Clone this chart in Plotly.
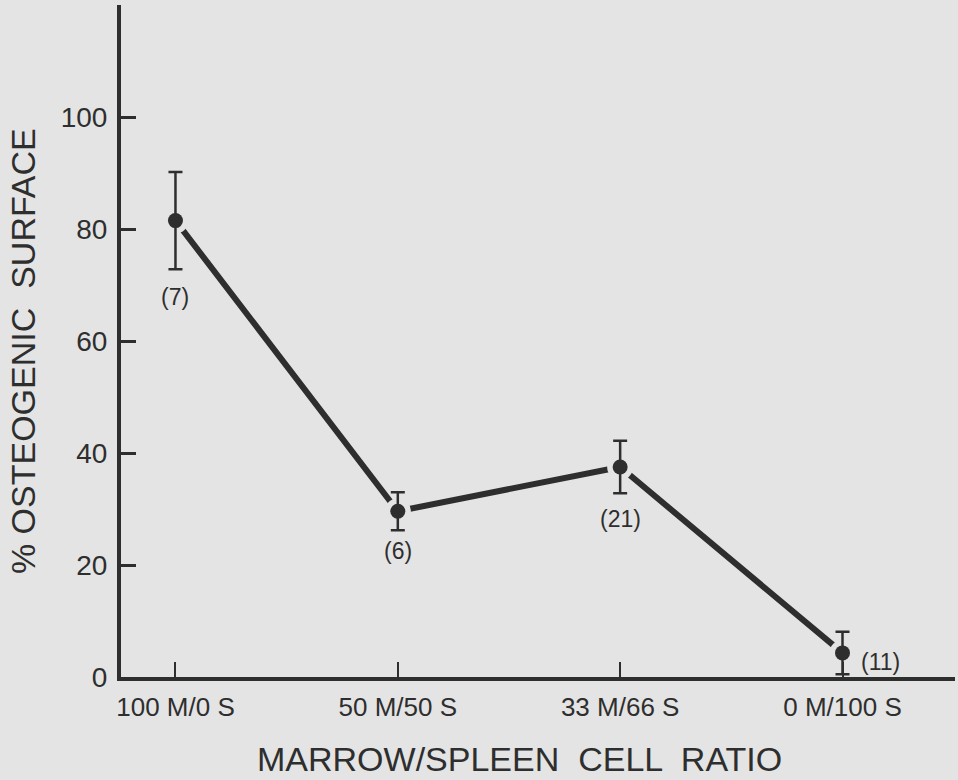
import plotly.graph_objects as go

categories = ["100 M/0 S", "50 M/50 S", "33 M/66 S", "0 M/100 S"]
osteogenic = [81.5, 29.6, 37.5, 4.3]
errors = [8.7, 3.4, 4.7, 3.8]
counts = ["(7)", "(6)", "(21)", "(11)"]
y_ticks = [0, 20, 40, 60, 80, 100]

BG = "#e4e4e4"
INK = "#2e2e2e"
FONT = "Liberation Sans"

xi = list(range(len(categories)))

fig = go.Figure()
# connecting line with background-coloured markers to create gaps
fig.add_trace(go.Scatter(
    x=xi, y=osteogenic, mode="lines+markers",
    line=dict(color=INK, width=6),
    marker=dict(size=26, color=BG),
    hoverinfo="skip", showlegend=False,
))
# points with error bars
fig.add_trace(go.Scatter(
    x=xi, y=osteogenic, mode="markers",
    marker=dict(size=15, color=INK),
    error_y=dict(type="data", array=errors, visible=True,
                 color=INK, thickness=2.5, width=7),
    showlegend=False,
))

label_offsets = [(0, -76), (0, -40), (0, -52), (38, -9)]
for i, (txt, (dx, dy)) in enumerate(zip(counts, label_offsets)):
    fig.add_annotation(x=xi[i], y=osteogenic[i], text=txt, showarrow=False,
                       xshift=dx, yshift=dy,
                       font=dict(family=FONT, size=23, color=INK))

# axis titles
fig.add_annotation(xref="paper", yref="paper", x=0.478, y=0, yshift=-82,
                   text="MARROW/SPLEEN  CELL  RATIO", showarrow=False,
                   xanchor="center", yanchor="middle",
                   font=dict(family=FONT, size=34, color=INK))
fig.add_annotation(xref="paper", yref="paper", x=0, xshift=-98, y=0.485,
                   text="% OSTEOGENIC  SURFACE", showarrow=False, textangle=-90,
                   xanchor="center", yanchor="middle",
                   font=dict(family=FONT, size=34, color=INK))

fig.update_layout(
    width=958, height=780,
    paper_bgcolor=BG, plot_bgcolor=BG,
    margin=dict(l=121, r=3, t=5, b=103),
    font=dict(family=FONT, color=INK),
    xaxis=dict(
        tickmode="array", tickvals=xi, ticktext=categories,
        range=[-0.245, 3.506],
        showline=True, linecolor=INK, linewidth=4,
        ticks="inside", ticklen=15, tickwidth=2, tickcolor=INK,
        showgrid=False, zeroline=False,
        tickfont=dict(family=FONT, size=26, color=INK),
        ticklabelstandoff=4,
    ),
    yaxis=dict(
        tickmode="array", tickvals=y_ticks,
        range=[0, 120],
        showline=True, linecolor=INK, linewidth=4,
        ticks="inside", ticklen=15, tickwidth=3, tickcolor=INK,
        showgrid=False, zeroline=False,
        tickfont=dict(family=FONT, size=28, color=INK),
        ticklabelstandoff=4,
    ),
)

fig.write_html(
    "out.html",
    config={"displayModeBar": False},
    post_script="document.body.style.margin='0';document.body.style.background='" + BG + "';",
)
